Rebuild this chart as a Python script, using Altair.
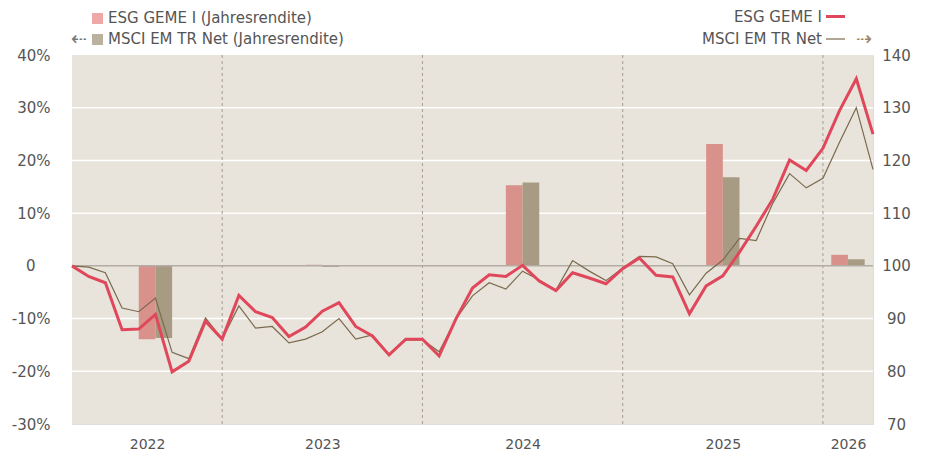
import altair as alt
import pandas as pd

# ---------------- data ----------------
months = [str(p) for p in pd.period_range("2022-03", "2026-03", freq="M")]

esg_index = [100.0, 98.0, 96.8, 87.9, 88.0, 90.8, 79.9, 81.9, 89.5, 86.1,
             94.4, 91.3, 90.2, 86.6, 88.4, 91.4, 93.0, 88.5, 86.7, 83.1,
             86.1, 86.1, 82.9, 89.9, 95.8, 98.3, 98.0, 100.1, 97.1, 95.3,
             98.7, 97.7, 96.6, 99.45, 101.5, 98.2, 97.9, 90.9, 96.2, 98.1,
             102.6, 107.5, 112.7, 120.1, 118.1, 122.3, 129.5, 135.5, 125.0]
msci_index = [100.0, 99.75, 98.7, 92.0, 91.3, 93.9, 83.6, 82.4, 90.1, 86.1,
              92.4, 88.2, 88.5, 85.4, 86.1, 87.5, 90.0, 86.1, 86.9, 83.1,
              85.9, 86.0, 83.7, 89.9, 94.3, 96.8, 95.6, 99.0, 97.3, 95.4,
              101.0, 99.0, 97.2, 99.6, 101.8, 101.7, 100.4, 94.5, 98.6, 101.1,
              105.2, 104.8, 111.9, 117.5, 114.8, 116.6, 123.5, 130.0, 118.3]

years = ["2022", "2023", "2024", "2025", "2026"]
esg_annual = [-13.9, 0.2, 15.3, 23.1, 2.1]
msci_annual = [-13.7, -0.2, 15.8, 16.8, 1.25]
# month index at which each year's pair of bars / year label is centred
bar_center = [5, 15, 27, 39, 46.5]
year_label_pos = [4.5, 15, 27, 39, 46.5]

left_ticks = [-30, -20, -10, 0, 10, 20, 30, 40]
right_ticks = [70, 80, 90, 100, 110, 120, 130, 140]
grid_vals = [-20, -10, 10, 20, 30]

legend_labels = ["ESG GEME I (Jahresrendite)", "MSCI EM TR Net (Jahresrendite)",
                 "ESG GEME I", "MSCI EM TR Net"]

# ---------------- styles ----------------
FONT = "DejaVu Sans"
TXT = "#555555"
RED = "#e0475a"
BROWN = "#7b6a4e"
RED_BAR = "#d8928b"
BROWN_BAR = "#a89b83"
RED_SW = "#eea8a7"
BROWN_SW = "#bbb19f"
BG = "#e8e3db"
FS = 15

n = len(months)
idx = list(range(n))
esg_df = pd.DataFrame({"i": idx, "month": months, "value": esg_index})
msci_df = pd.DataFrame({"i": idx, "month": months, "value": msci_index})

bar_rows = []
for y, c, e, m in zip(years, bar_center, esg_annual, msci_annual):
    bar_rows.append({"year": y, "series": "ESG", "x0": c - 1, "x1": c, "v": e, "z": 0})
    bar_rows.append({"year": y, "series": "MSCI", "x0": c, "x1": c + 1, "v": m, "z": 0})
bar_df = pd.DataFrame(bar_rows)

year_end_idx = [months.index(f"{y}-12") for y in years if f"{y}-12" in months]
vline_df = pd.DataFrame({"i": year_end_idx})

x_scale = alt.Scale(domain=[0, n - 1], nice=False, zero=False)
label_expr = " : ".join(
    f"datum.value == {p} ? '{y}'" for p, y in zip(year_label_pos, years)) + " : ''"
x_axis = alt.Axis(values=year_label_pos, labelExpr=label_expr, ticks=False,
                  domain=False, grid=False, labelPadding=13, labelFontSize=14,
                  labelColor=TXT, labelFlush=False, labelOverlap=False,
                  labelBaseline="top", title=None)

left_scale = alt.Scale(domain=[-30, 40], nice=False, zero=False)
left_axis = alt.Axis(orient="left", values=left_ticks,
                     labelExpr="datum.value == 0 ? '0' : datum.value + '%'",
                     ticks=False, domain=False, grid=False,
                     labelPadding={"condition": {"test": "datum.value === 0", "value": 37},
                                   "value": 22},
                     labelAlign="right",
                     labelFontSize=FS, labelColor=TXT, labelOverlap=False,
                     title=None)
right_scale = alt.Scale(domain=[70, 140], nice=False, zero=False)
right_axis = alt.Axis(orient="right", values=right_ticks, ticks=False,
                      domain=False, grid=False, labelPadding=23,
                      labelAlign="center", labelFontSize=FS, labelColor=TXT,
                      labelOverlap=False, title=None)

# ---------------- left-axis group ----------------
bg = alt.Chart(pd.DataFrame({"x0": [0], "x1": [n - 1], "y0": [-30], "y1": [40]})).mark_rect(
    color=BG
).encode(
    x=alt.X("x0:Q", scale=x_scale, axis=x_axis), x2="x1",
    y=alt.Y("y0:Q", scale=left_scale, axis=left_axis), y2="y1",
)

grid = alt.Chart(pd.DataFrame({"g": grid_vals})).mark_rule(
    color="white", strokeWidth=1.5
).encode(y=alt.Y("g:Q", scale=left_scale, axis=left_axis))

vlines = alt.Chart(vline_df).mark_rule(
    color="#a39d95", strokeDash=[3, 3], strokeWidth=1
).encode(x=alt.X("i:Q", scale=x_scale, axis=x_axis))

bars = alt.Chart(bar_df).mark_rect().encode(
    x=alt.X("x0:Q", scale=x_scale, axis=x_axis),
    x2="x1",
    y=alt.Y("v:Q", scale=left_scale, axis=left_axis),
    y2="z",
    color=alt.Color("series:N", scale=alt.Scale(domain=["ESG", "MSCI"],
                                                range=[RED_BAR, BROWN_BAR]),
                    legend=None),
)

zero = alt.Chart(pd.DataFrame({"z": [0]})).mark_rule(
    color="#b2aca4", strokeWidth=1.5
).encode(y=alt.Y("z:Q", scale=left_scale, axis=left_axis))

left = alt.layer(bg, grid, vlines, bars, zero)

# ---------------- right-axis group ----------------
msci_line = alt.Chart(msci_df).mark_line(color=BROWN, strokeWidth=1.2).encode(
    x=alt.X("i:Q", scale=x_scale, axis=x_axis),
    y=alt.Y("value:Q", scale=right_scale, axis=right_axis),
)
esg_line = alt.Chart(esg_df).mark_line(color=RED, strokeWidth=3).encode(
    x=alt.X("i:Q", scale=x_scale, axis=x_axis),
    y=alt.Y("value:Q", scale=right_scale, axis=right_axis),
)
right = alt.layer(msci_line, esg_line)

# ---------------- legend ----------------
one = pd.DataFrame({"a": [0]})


def txt(s, x, y, align="left", color=TXT, size=FS):
    return alt.Chart(pd.DataFrame({"t": [s]})).mark_text(
        align=align, baseline="middle", fontSize=size, font=FONT, color=color
    ).encode(x=alt.value(x), y=alt.value(y), text="t:N")


def swatch(x, x2, y, y2, color):
    return alt.Chart(one).mark_rect(color=color).encode(
        x=alt.value(x), x2=alt.value(x2), y=alt.value(y), y2=alt.value(y2))


def lswatch(x, x2, y, color, w):
    return alt.Chart(one).mark_rule(color=color, strokeWidth=w).encode(
        x=alt.value(x), x2=alt.value(x2), y=alt.value(y))


legend = [
    swatch(20, 31, -42, -31, RED_SW),
    txt(legend_labels[0], 36, -37),
    txt("\u21e0", 7, -16, align="center", color="#777777", size=19),
    swatch(20, 31, -21, -10, BROWN_SW),
    txt(legend_labels[1], 36, -16),
    txt(legend_labels[2], 750, -38, align="right"),
    lswatch(754, 773, -38.5, RED, 3),
    txt(legend_labels[3], 750, -16, align="right"),
    lswatch(754, 773, -16, BROWN, 1.2),
    txt("\u21e2", 792, -16, align="center", color="#9a8262", size=19),
]

chart = alt.layer(left, right, *legend).resolve_scale(y="independent").properties(
    width=801, height=369,
    autosize=alt.AutoSizeParams(type="none"),
    padding={"left": 64, "top": 47, "right": 40, "bottom": 29},
    background="white",
).configure_view(stroke=None).configure(font=FONT)

chart.save("out.html", embed_options={"renderer": "svg", "actions": False})
